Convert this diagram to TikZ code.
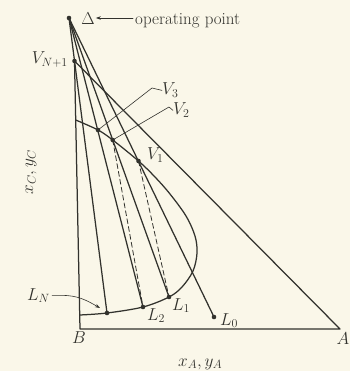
\documentclass[tikz,border=0pt]{standalone}
\usetikzlibrary{arrows.meta}
\definecolor{paper}{RGB}{250,247,233}
\definecolor{ink}{RGB}{50,50,45}
\begin{document}
\begin{tikzpicture}[x=1pt,y=-1pt, line cap=round, line join=round,
  ln/.style={draw=ink, line width=1.25pt},
  tie/.style={draw=ink, line width=0.8pt, dash pattern=on 5pt off 3pt},
  lead/.style={draw=ink, line width=0.6pt},
  dot/.style={circle, fill=ink, inner sep=0pt, minimum size=4.6pt},
  lab/.style={text=ink, inner sep=0pt, font=\fontsize{17}{19}\selectfont}]
\fill[paper] (0,0) rectangle (350,371);
\useasboundingbox (0,0) rectangle (350,371);
% points
\coordinate (D) at (69,18);
\coordinate (C) at (74.5,61);
\coordinate (B) at (80,329);
\coordinate (A) at (340,329);
\coordinate (LN) at (107,313);
\coordinate (L2) at (143,307);
\coordinate (L1) at (169,297);
\coordinate (L0) at (214,317);
\coordinate (V3) at (98,130);
\coordinate (V2) at (112.7,140);
\coordinate (V1) at (138.5,161);
% triangle
\draw[ln] (C) -- (B) -- (A) -- cycle;
% phase envelope
\draw[ln] plot[smooth, tension=0.55] coordinates {(75.7,120) (V3) (V2) (V1) (155,177) (170,194) (186,216) (195,236) (197,253) (193,271) (182,287) (L1) (L2) (LN) (79.8,315)};
% operating lines
\draw[ln] (D) -- (LN);
\draw[ln] (D) -- (L2);
\draw[ln] (D) -- (L1);
\draw[ln] (D) -- (L0);
% tie lines
\draw[tie] (V2) -- (L2);
\draw[tie] (V1) -- (L1);
% dots
\foreach \p in {D,C,V3,V2,V1,LN,L2,L1,L0} \node[dot] at (\p) {};
% labels
\node[lab, anchor=center] (Dlab) at (88,19) {$\Delta$};
\node[lab, anchor=base west] (oplab) at (135,25) {operating point};
\draw[lead, -{Stealth[length=5pt,width=3.5pt]}] ([xshift=-2pt]oplab.west |- D) -- ([xshift=1pt]Dlab.east |- D);
\node[lab, anchor=base east] (VNlab) at (68,64) {$V_{N+1}$};
\node[lab, anchor=base west] (V3lab) at (162,95) {$V_3$};
\node[lab, anchor=base west] (V2lab) at (173,115) {$V_2$};
\node[lab, anchor=base west] (V1lab) at (147,160) {$V_1$};
\coordinate (V3k) at (152,88);
\coordinate (V2k) at (169,107);
\draw[lead] (V3) -- (V3k) -- (V3lab.west);
\draw[lead] (V2) -- (V2k) -- (V2lab.west);
\node[lab, anchor=base west] (L1lab) at (172,310) {$L_1$};
\node[lab, anchor=base west] (L2lab) at (147,320) {$L_2$};
\node[lab, anchor=base west] (L0lab) at (220,325) {$L_0$};
\node[lab, anchor=base west] (LNlab) at (27,300) {$L_N$};
\coordinate (LNtip) at (100,308);
\draw[lead, -{Stealth[length=5pt,width=3.5pt]}] ([xshift=2pt]LNlab.east) -- ++(10,0) to[out=0,in=150] (LNtip);
\node[lab, anchor=base west] (Blab) at (72,343) {$B$};
\node[lab, anchor=base west] (xlab) at (178,366) {$x_A, y_A$};
\node[lab, anchor=base east] (Alab) at (349.5,344) {$A$};
\node[lab, rotate=90] (ylab) at (31,172) {$x_C, y_C$};
\end{tikzpicture}
\end{document}
